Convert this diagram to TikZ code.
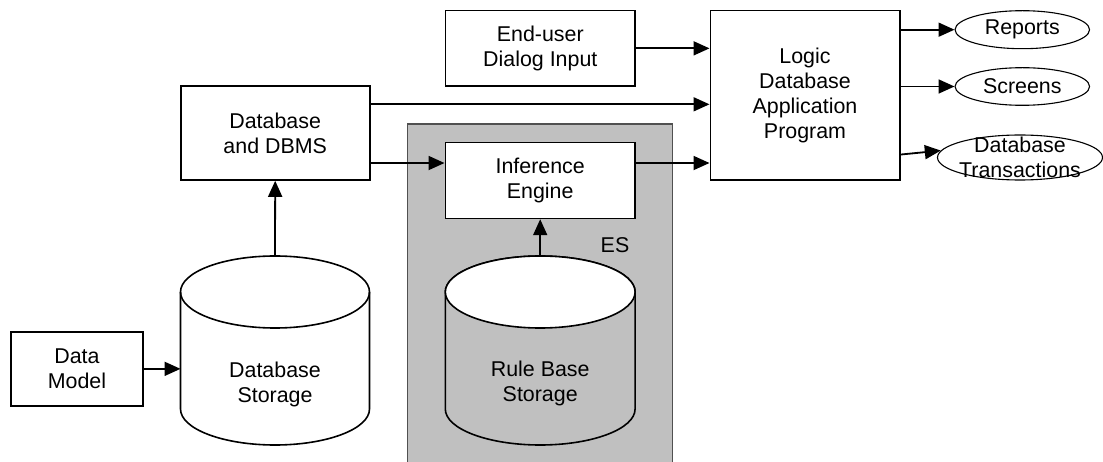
\documentclass[tikz,border=0pt]{standalone}
\usepackage{fontspec}
\setmainfont{Liberation Sans}
\usetikzlibrary{arrows.meta,calc,shapes.geometric}
\definecolor{esgray}{HTML}{C0C0C0}
\definecolor{esedge}{HTML}{505050}

\tikzset{
  box/.style={draw=black, line width=1.6pt, fill=white, rectangle, inner sep=0pt, align=center},
  txt/.style={inner sep=0pt, align=center},
  outoval/.style={draw=black, line width=1.1pt, ellipse, inner sep=0pt},
  arr/.style={line width=1.8pt, -{Triangle[length=16pt,width=14pt]}},
  cyl/.style={draw=black, line width=1.6pt},
}

\begin{document}
\begin{tikzpicture}[x=1pt, y=1pt, font=\fontsize{21.4pt}{25pt}\selectfont]
\useasboundingbox (0,0) rectangle (1103,-462);

% expert-system frame
\draw[fill=esgray, draw=esedge, line width=1.2pt] (407.5,-124) rectangle (672.7,-464);
\node[txt] (es) at (615,-245) {ES};

% boxes
\node[box, minimum width=132.5pt, minimum height=74.3pt] (dm) at (76.95,-368.85) {Data\\Model};
\node[box, minimum width=189pt, minimum height=94pt] (dbms) at (275.2,-133) {Database\\and DBMS};
\node[box, minimum width=189.8pt, minimum height=75.3pt] (eu) at (540.3,-48.35) {End-user\\Dialog Input};
\node[box, minimum width=189.8pt, minimum height=75.8pt] (inf) at (540.2,-180.5) {Inference\\Engine};
\node[box, minimum width=189.4pt, minimum height=169.6pt] (logic) at (805,-95.5) {Logic\\Database\\Application\\Program};

% database storage cylinder
\filldraw[cyl, fill=white] (180.5,-292) -- (180.5,-409)
  arc[start angle=180, end angle=360, x radius=94.5, y radius=36] -- (369.5,-292)
  arc[start angle=0, end angle=180, x radius=94.5, y radius=36] -- cycle;
\draw[cyl] (180.5,-292) arc[start angle=180, end angle=360, x radius=94.5, y radius=36];
\coordinate (dstop) at (275,-256);
\coordinate (dsleft) at (180.5,-368.85);
\node[txt] (dstxt) at (275,-384) {Database\\Storage};

% rule base storage cylinder
\filldraw[cyl, fill=esgray] (445.3,-292) -- (445.3,-409)
  arc[start angle=180, end angle=360, x radius=94.9, y radius=36] -- (635.1,-292)
  arc[start angle=0, end angle=180, x radius=94.9, y radius=36] -- cycle;
\fill[white] (540.2,-292) ellipse[x radius=94.9, y radius=36];
\draw[cyl] (540.2,-292) ellipse[x radius=94.9, y radius=36];
\coordinate (rbtop) at (540.2,-256);
\node[txt] (rbtxt) at (540.2,-383) {Rule Base\\Storage};

% output ovals
\node[outoval, minimum width=134.5pt, minimum height=38pt] (rep) at (1022.3,-29.7) {};
\node[txt] (reptxt) at (rep.center) {Reports};
\node[outoval, minimum width=134.5pt, minimum height=37.6pt] (scr) at (1022.3,-86.5) {};
\node[txt] (scrtxt) at (scr.center) {Screens};
\node[outoval, minimum width=165pt, minimum height=45pt] (trn) at (1020,-157.5) {};
\node[txt] (trntxt) at (trn.center) {Database\\Transactions};

% connectors
\draw[arr] (dm.east) -- (dsleft);
\draw[arr] (dstop) -- (dbms.south);
\draw[arr] (rbtop) -- (inf.south);
\draw[arr] ($(dbms.north east)!0.2!(dbms.south east)$) coordinate (d1) -- (d1 -| logic.west);
\draw[arr] ($(dbms.north east)!0.814!(dbms.south east)$) coordinate (d2) -- (d2 -| inf.west);
\draw[arr] (inf.east |- d2) -- (d2 -| logic.west);
\draw[arr] (eu.east) -- (eu.east -| logic.west);
\draw[arr] (logic.east |- rep.west) -- (rep.west);
\draw[arr] (logic.east |- scr.west) -- (scr.west);
\draw[arr] ($(logic.north east)!0.845!(logic.south east)$) -- (trn.175);
\end{tikzpicture}
\end{document}
